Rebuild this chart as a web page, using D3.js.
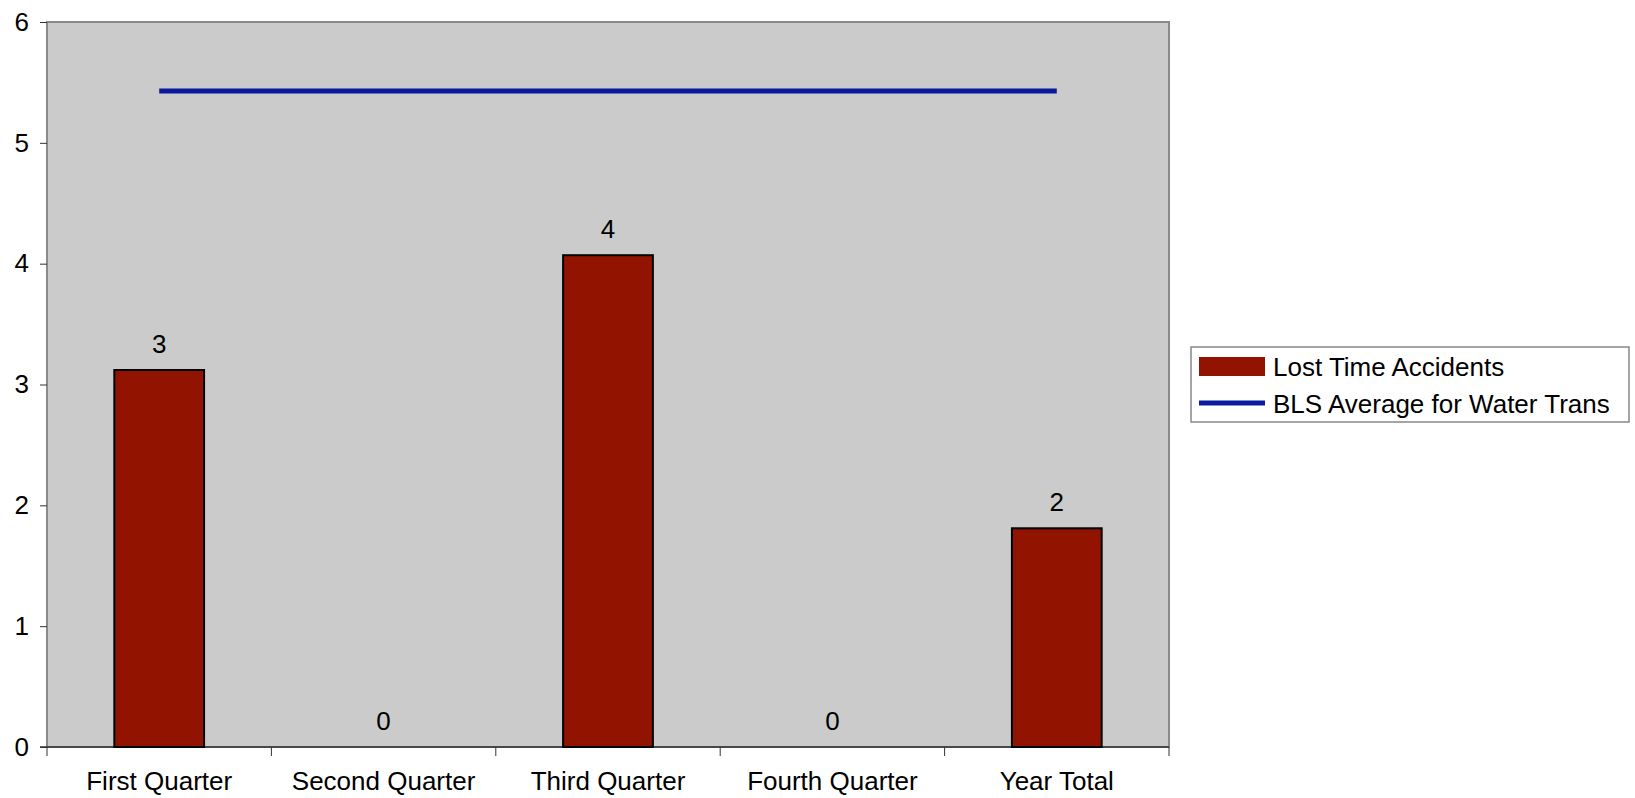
<!DOCTYPE html>
<html>
<head>
<meta charset="utf-8">
<script src="https://cdn.jsdelivr.net/npm/d3@7"></script>
<style>
  html, body { margin: 0; padding: 0; background: #fff; overflow: hidden; }
  svg { display: block; }
  text { font-family: "Liberation Sans", Arial, sans-serif; fill: #000; }
</style>
</head>
<body>
<script>
const categories = ["First Quarter", "Second Quarter", "Third Quarter", "Fourth Quarter", "Year Total"];
const lostTime = [3.12, 0, 4.07, 0, 1.81];
const lostTimeLabels = ["3", "0", "4", "0", "2"];
const blsAverage = [5.43, 5.43, 5.43, 5.43, 5.43];
const yTicks = [0, 1, 2, 3, 4, 5, 6];
const seriesNames = ["Lost Time Accidents", "BLS Average for Water Trans"];

const width = 1635, height = 798;
const margin = {top: 22, right: 466, bottom: 51, left: 47},
  innerWidth = width - margin.left - margin.right,
  innerHeight = height - margin.top - margin.bottom;

const svg = d3.select("body").append("svg")
    .attr("width", width)
    .attr("height", height);

const g = svg.append("g")
    .attr("transform", "translate(" + margin.left + "," + margin.top + ")");

const x = d3.scaleBand()
    .domain(categories)
    .range([0, innerWidth])
    .padding(0);

const y = d3.scaleLinear()
    .domain([0, 6])
    .range([innerHeight, 0]);

// plot background
g.append("rect")
    .attr("width", innerWidth)
    .attr("height", innerHeight)
    .attr("fill", "#cbcbcb")
    .attr("stroke", "#8a8a8a")
    .attr("stroke-width", 2);

// y axis
const yAxis = g.append("g")
    .call(d3.axisLeft(y).tickValues(yTicks).tickSize(7).tickPadding(11).tickFormat(d3.format("d")));
yAxis.select(".domain").remove();
yAxis.selectAll("line").attr("stroke", "#333");
yAxis.selectAll("text").style("font-size", "26px").attr("fill", "#000");

// x axis, ticks sit on category boundaries
const xAxis = g.append("g")
    .attr("transform", "translate(0," + innerHeight + ")");
xAxis.append("line")
    .attr("x1", -7).attr("x2", innerWidth)
    .attr("stroke", "#333").attr("stroke-width", 1.5);
xAxis.selectAll(".bound")
    .data(categories.concat([null]))
  .enter().append("line")
    .attr("x1", (d, i) => i < categories.length ? x(d) : innerWidth)
    .attr("x2", (d, i) => i < categories.length ? x(d) : innerWidth)
    .attr("y1", 0).attr("y2", 9)
    .attr("stroke", "#333");
xAxis.selectAll(".cat")
    .data(categories)
  .enter().append("text")
    .attr("x", d => x(d) + x.bandwidth() / 2)
    .attr("y", 43)
    .attr("text-anchor", "middle")
    .style("font-size", "26px")
    .text(d => d);

// bars
const barW = x.bandwidth() * 0.4;
g.selectAll(".bar")
    .data(lostTime)
  .enter().append("rect")
    .attr("x", (d, i) => x(categories[i]) + (x.bandwidth() - barW) / 2)
    .attr("width", barW)
    .attr("y", d => y(d))
    .attr("height", d => innerHeight - y(d))
    .attr("fill", "#921400")
    .attr("stroke", d => d > 0 ? "#000" : "none")
    .attr("stroke-width", 2);

g.selectAll(".val")
    .data(lostTime)
  .enter().append("text")
    .attr("x", (d, i) => x(categories[i]) + x.bandwidth() / 2)
    .attr("y", d => y(d) - 17)
    .attr("text-anchor", "middle")
    .style("font-size", "26px")
    .text((d, i) => lostTimeLabels[i]);

// BLS line
const line = d3.line()
    .x((d, i) => x(categories[i]) + x.bandwidth() / 2)
    .y(d => y(d));
g.append("path")
    .datum(blsAverage)
    .attr("d", line)
    .attr("fill", "none")
    .attr("stroke", "#0a1a9c")
    .attr("stroke-width", 5);

// legend
const legend = svg.append("g").attr("transform", "translate(1191,347)");
legend.append("rect")
    .attr("width", 438).attr("height", 75)
    .attr("fill", "#fff").attr("stroke", "#888").attr("stroke-width", 1.5);
legend.append("rect")
    .attr("x", 8).attr("y", 10).attr("width", 66).attr("height", 19)
    .attr("fill", "#921400");
legend.append("line")
    .attr("x1", 8).attr("x2", 74).attr("y1", 56).attr("y2", 56)
    .attr("stroke", "#0a1a9c").attr("stroke-width", 5);
legend.selectAll(".lt")
    .data(seriesNames)
  .enter().append("text")
    .attr("x", 82)
    .attr("y", (d, i) => 20 + i * 37)
    .attr("dy", "0.35em")
    .style("font-size", "26px")
    .text(d => d);
</script>
</body>
</html>
